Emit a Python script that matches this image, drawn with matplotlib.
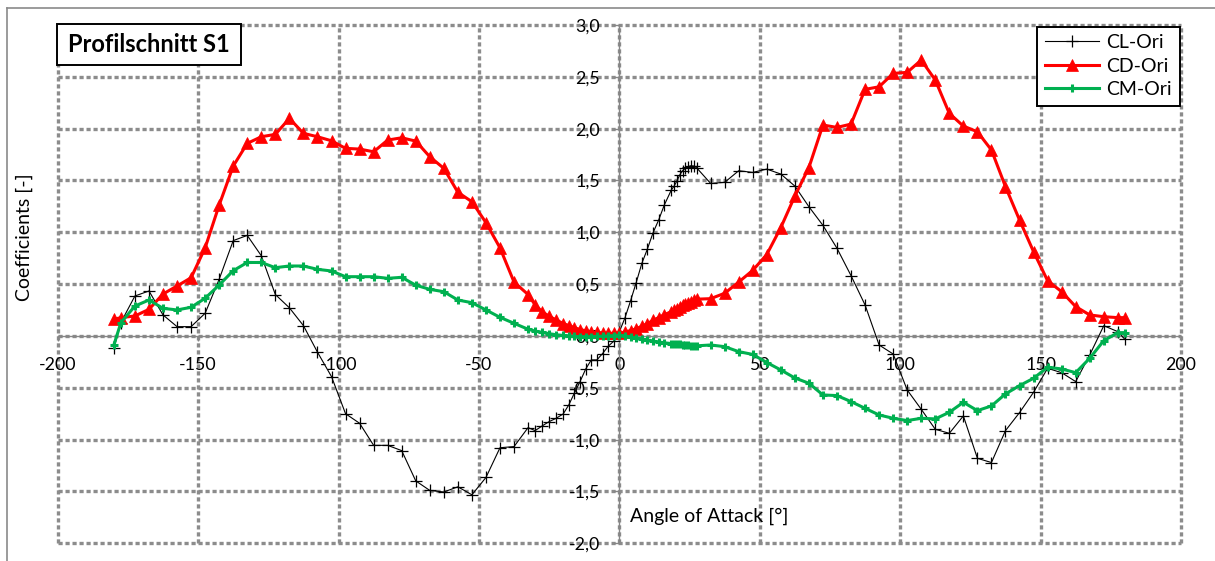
import matplotlib
matplotlib.use("Agg")
import matplotlib.pyplot as plt
from matplotlib.ticker import FuncFormatter
from matplotlib.patches import Rectangle
from matplotlib.lines import Line2D

# ---- data -----------------------------------------------------------------
angle = [-180, -177.5, -172.5, -167.5, -162.5, -157.5, -152.5, -147.5, -142.5,
         -137.5, -132.5, -127.5, -122.5, -117.5, -112.5, -107.5, -102.5, -97.5,
         -92.5, -87.5, -82.5, -77.5, -72.5, -67.5, -62.5, -57.5, -52.5, -47.5,
         -42.5, -37.5, -32.5, -30, -27.5, -25, -22.5, -20, -18, -16, -14, -12,
         -10, -8, -6, -4, -2, 0, 2, 4, 6, 8, 10, 12, 14, 16, 18.5, 19.5, 20.5,
         21.5, 22.5, 23.5, 24.5, 25.5, 26.5, 27.5, 32.5, 37.5, 42.5, 47.5, 52.5,
         57.5, 62.5, 67.5, 72.5, 77.5, 82.5, 87.5, 92.5, 97.5, 102.5, 107.5,
         112.5, 117.5, 122.5, 127.5, 132.5, 137.5, 142.5, 147.5, 152.5, 157.5,
         162.5, 167.5, 172.5, 177.5, 180]

cl_ori = [-0.12, 0.13, 0.386, 0.434, 0.203, 0.09, 0.09, 0.219, 0.547, 0.92,
          0.97, 0.774, 0.40, 0.272, 0.10, -0.156, -0.392, -0.75, -0.842, -1.055,
          -1.055, -1.106, -1.398, -1.49, -1.505, -1.455, -1.532, -1.365, -1.078,
          -1.067, -0.884, -0.913, -0.868, -0.826, -0.794, -0.752, -0.665, -0.55,
          -0.44, -0.32, -0.231, -0.231, -0.17, -0.10, -0.05, 0.04, 0.175, 0.34,
          0.515, 0.70, 0.84, 0.996, 1.119, 1.263, 1.408, 1.446, 1.495, 1.553,
          1.594, 1.617, 1.633, 1.642, 1.639, 1.623, 1.472, 1.482, 1.594, 1.578,
          1.610, 1.562, 1.446, 1.247, 1.067, 0.846, 0.582, 0.299, -0.087, -0.174,
          -0.521, -0.707, -0.900, -0.939, -0.771, -1.180, -1.221, -0.913, -0.739,
          -0.543, -0.312, -0.354, -0.440, -0.183, 0.099, 0.042, -0.032]

cd_ori = [0.161, 0.177, 0.193, 0.257, 0.405, 0.482, 0.562, 0.85, 1.263, 1.639,
          1.858, 1.922, 1.945, 2.099, 1.955, 1.922, 1.883, 1.81, 1.803, 1.777,
          1.89, 1.912, 1.88, 1.729, 1.617, 1.386, 1.295, 1.093, 0.85, 0.52, 0.40,
          0.30, 0.234, 0.19, 0.155, 0.12, 0.10, 0.08, 0.062, 0.05, 0.04, 0.034,
          0.03, 0.027, 0.026, 0.028, 0.038, 0.052, 0.07, 0.093, 0.12, 0.15, 0.178,
          0.205, 0.235, 0.25, 0.265, 0.28, 0.295, 0.308, 0.32, 0.332, 0.343,
          0.355, 0.36, 0.412, 0.52, 0.633, 0.786, 1.046, 1.35, 1.625, 2.035,
          2.012, 2.044, 2.379, 2.404, 2.533, 2.543, 2.662, 2.469, 2.147, 2.025,
          1.97, 1.794, 1.44, 1.119, 0.813, 0.533, 0.427, 0.283, 0.203, 0.186,
          0.177, 0.177]

cm_ori = [-0.087, 0.128, 0.289, 0.347, 0.267, 0.251, 0.277, 0.364, 0.492, 0.63,
          0.709, 0.709, 0.659, 0.675, 0.675, 0.643, 0.627, 0.572, 0.572, 0.572,
          0.556, 0.566, 0.49, 0.45, 0.427, 0.347, 0.321, 0.251, 0.18, 0.122,
          0.065, 0.047, 0.035, 0.022, 0.012, 0.005, 0.0, -0.004, -0.006, -0.006,
          -0.006, -0.004, -0.002, 0.0, 0.004, 0.008, 0.0, -0.01, -0.02, -0.03,
          -0.04, -0.05, -0.058, -0.066, -0.073, -0.076, -0.079, -0.082, -0.085,
          -0.088, -0.09, -0.092, -0.094, -0.095, -0.087, -0.103, -0.151, -0.178,
          -0.256, -0.328, -0.405, -0.456, -0.569, -0.575, -0.633, -0.698, -0.762,
          -0.794, -0.816, -0.794, -0.8, -0.736, -0.64, -0.72, -0.675, -0.559,
          -0.479, -0.408, -0.302, -0.318, -0.354, -0.215, -0.045, 0.032, 0.032]

x_ticks = [-200, -150, -100, -50, 0, 50, 100, 150, 200]
y_ticks = [-2.0, -1.5, -1.0, -0.5, 0.0, 0.5, 1.0, 1.5, 2.0, 2.5, 3.0]

series_names = ["CL-Ori", "CD-Ori", "CM-Ori"]
title_text = "Profilschnitt S1"

# ---- figure ---------------------------------------------------------------
FONT = "Lato"
plt.rcParams["font.family"] = [FONT, "DejaVu Sans"]
FS = 12.8       # tick labels
FS_LAB = 14     # axis titles and legend

W, H = 1215, 561
fig = plt.figure(figsize=(W / 100, H / 100), dpi=100)
fig.patch.set_facecolor("white")


def fx(px):
    return px / W


def fy(py):
    return 1 - py / H


ax = fig.add_axes([fx(57.7), fy(543.3), fx(1181) - fx(57.7), fy(25) - fy(543.3)])
ax.set_xlim(x_ticks[0], x_ticks[-1])
ax.set_ylim(y_ticks[0], y_ticks[-1])
ax.set_facecolor("white")

# dotted grid, including the outer frame of the plot area
grid_col = "#8c8c8c"
dots = (0, (1.25, 0.85))
ax.hlines(y_ticks, x_ticks[0], x_ticks[-1], colors=grid_col, linewidth=2.4,
          linestyles=dots, clip_on=False, zorder=1)
ax.vlines(x_ticks, y_ticks[0], y_ticks[-1], colors=grid_col, linewidth=2.4,
          linestyles=dots, clip_on=False, zorder=1)

axis_col = "#868686"
for side in ("top", "right"):
    ax.spines[side].set_visible(False)
ax.spines["left"].set_position(("data", 0))
ax.spines["bottom"].set_position(("data", 0))
for side in ("left", "bottom"):
    ax.spines[side].set_color(axis_col)
    ax.spines[side].set_linewidth(1.0)
    ax.spines[side].set_zorder(2)

ax.set_xticks(x_ticks)
ax.set_yticks(y_ticks)
ax.xaxis.set_major_formatter(FuncFormatter(lambda v, p: f"{v:.0f}"))
ax.yaxis.set_major_formatter(FuncFormatter(lambda v, p: f"{v:.1f}".replace(".", ",")))
ax.tick_params(axis="both", direction="out", length=3.6, width=1.0,
               color=axis_col, labelsize=FS, labelcolor="black")
ax.tick_params(axis="y", pad=10.5)
ax.tick_params(axis="x", pad=11.5)

# ---- series ---------------------------------------------------------------
ax.plot(angle, cl_ori, color="black", linewidth=0.8, marker="+",
        markersize=8, markeredgewidth=0.9, label=series_names[0], zorder=3,
        clip_on=False)
ax.plot(angle, cd_ori, color="#FF0000", linewidth=2.2, marker="^",
        markersize=8, markeredgewidth=0.5, label=series_names[1], zorder=4,
        clip_on=False)
ax.plot(angle, cm_ori, color="#00B050", linewidth=2.2, marker="+",
        markersize=5.5, markeredgewidth=2.2, label=series_names[2], zorder=5,
        clip_on=False)

# ---- legend ---------------------------------------------------------------
leg = ax.legend(loc="upper right", bbox_to_anchor=(fx(1179.5), fy(26.5)),
                bbox_transform=fig.transFigure, fontsize=FS_LAB, frameon=True,
                fancybox=False, framealpha=1, edgecolor="black",
                handlelength=2.8, handletextpad=0.35, labelspacing=0.33,
                borderpad=0.4, borderaxespad=0)
leg.get_frame().set_linewidth(1.4)
leg.set_zorder(10)

# ---- titles and labels ----------------------------------------------------
fig.patches.append(Rectangle((fx(57.3), fy(65)), fx(240.7) - fx(57.3),
                             fy(24) - fy(65), transform=fig.transFigure,
                             facecolor="white", edgecolor="black",
                             linewidth=1.4, zorder=10))
fig.text(fx(149), fy(45), title_text, ha="center", va="center",
         fontsize=17, fontweight="bold", zorder=11)

fig.text(fx(630), fy(516), "Angle of Attack [°]", ha="left", va="center",
         fontsize=FS_LAB, zorder=11)
fig.text(fx(24), fy(237), "Coefficients [-]", ha="center", va="center",
         rotation=90, fontsize=FS_LAB, zorder=11)

# outer chart border
fig.add_artist(Line2D([fx(7), fx(7)], [fy(8), 0], color="#8a8a8a",
                      linewidth=1.2, transform=fig.transFigure))
fig.add_artist(Line2D([fx(7), 1], [fy(8), fy(8)], color="#8a8a8a",
                      linewidth=1.2, transform=fig.transFigure))

fig.savefig("out.png", dpi=100, facecolor="white")
